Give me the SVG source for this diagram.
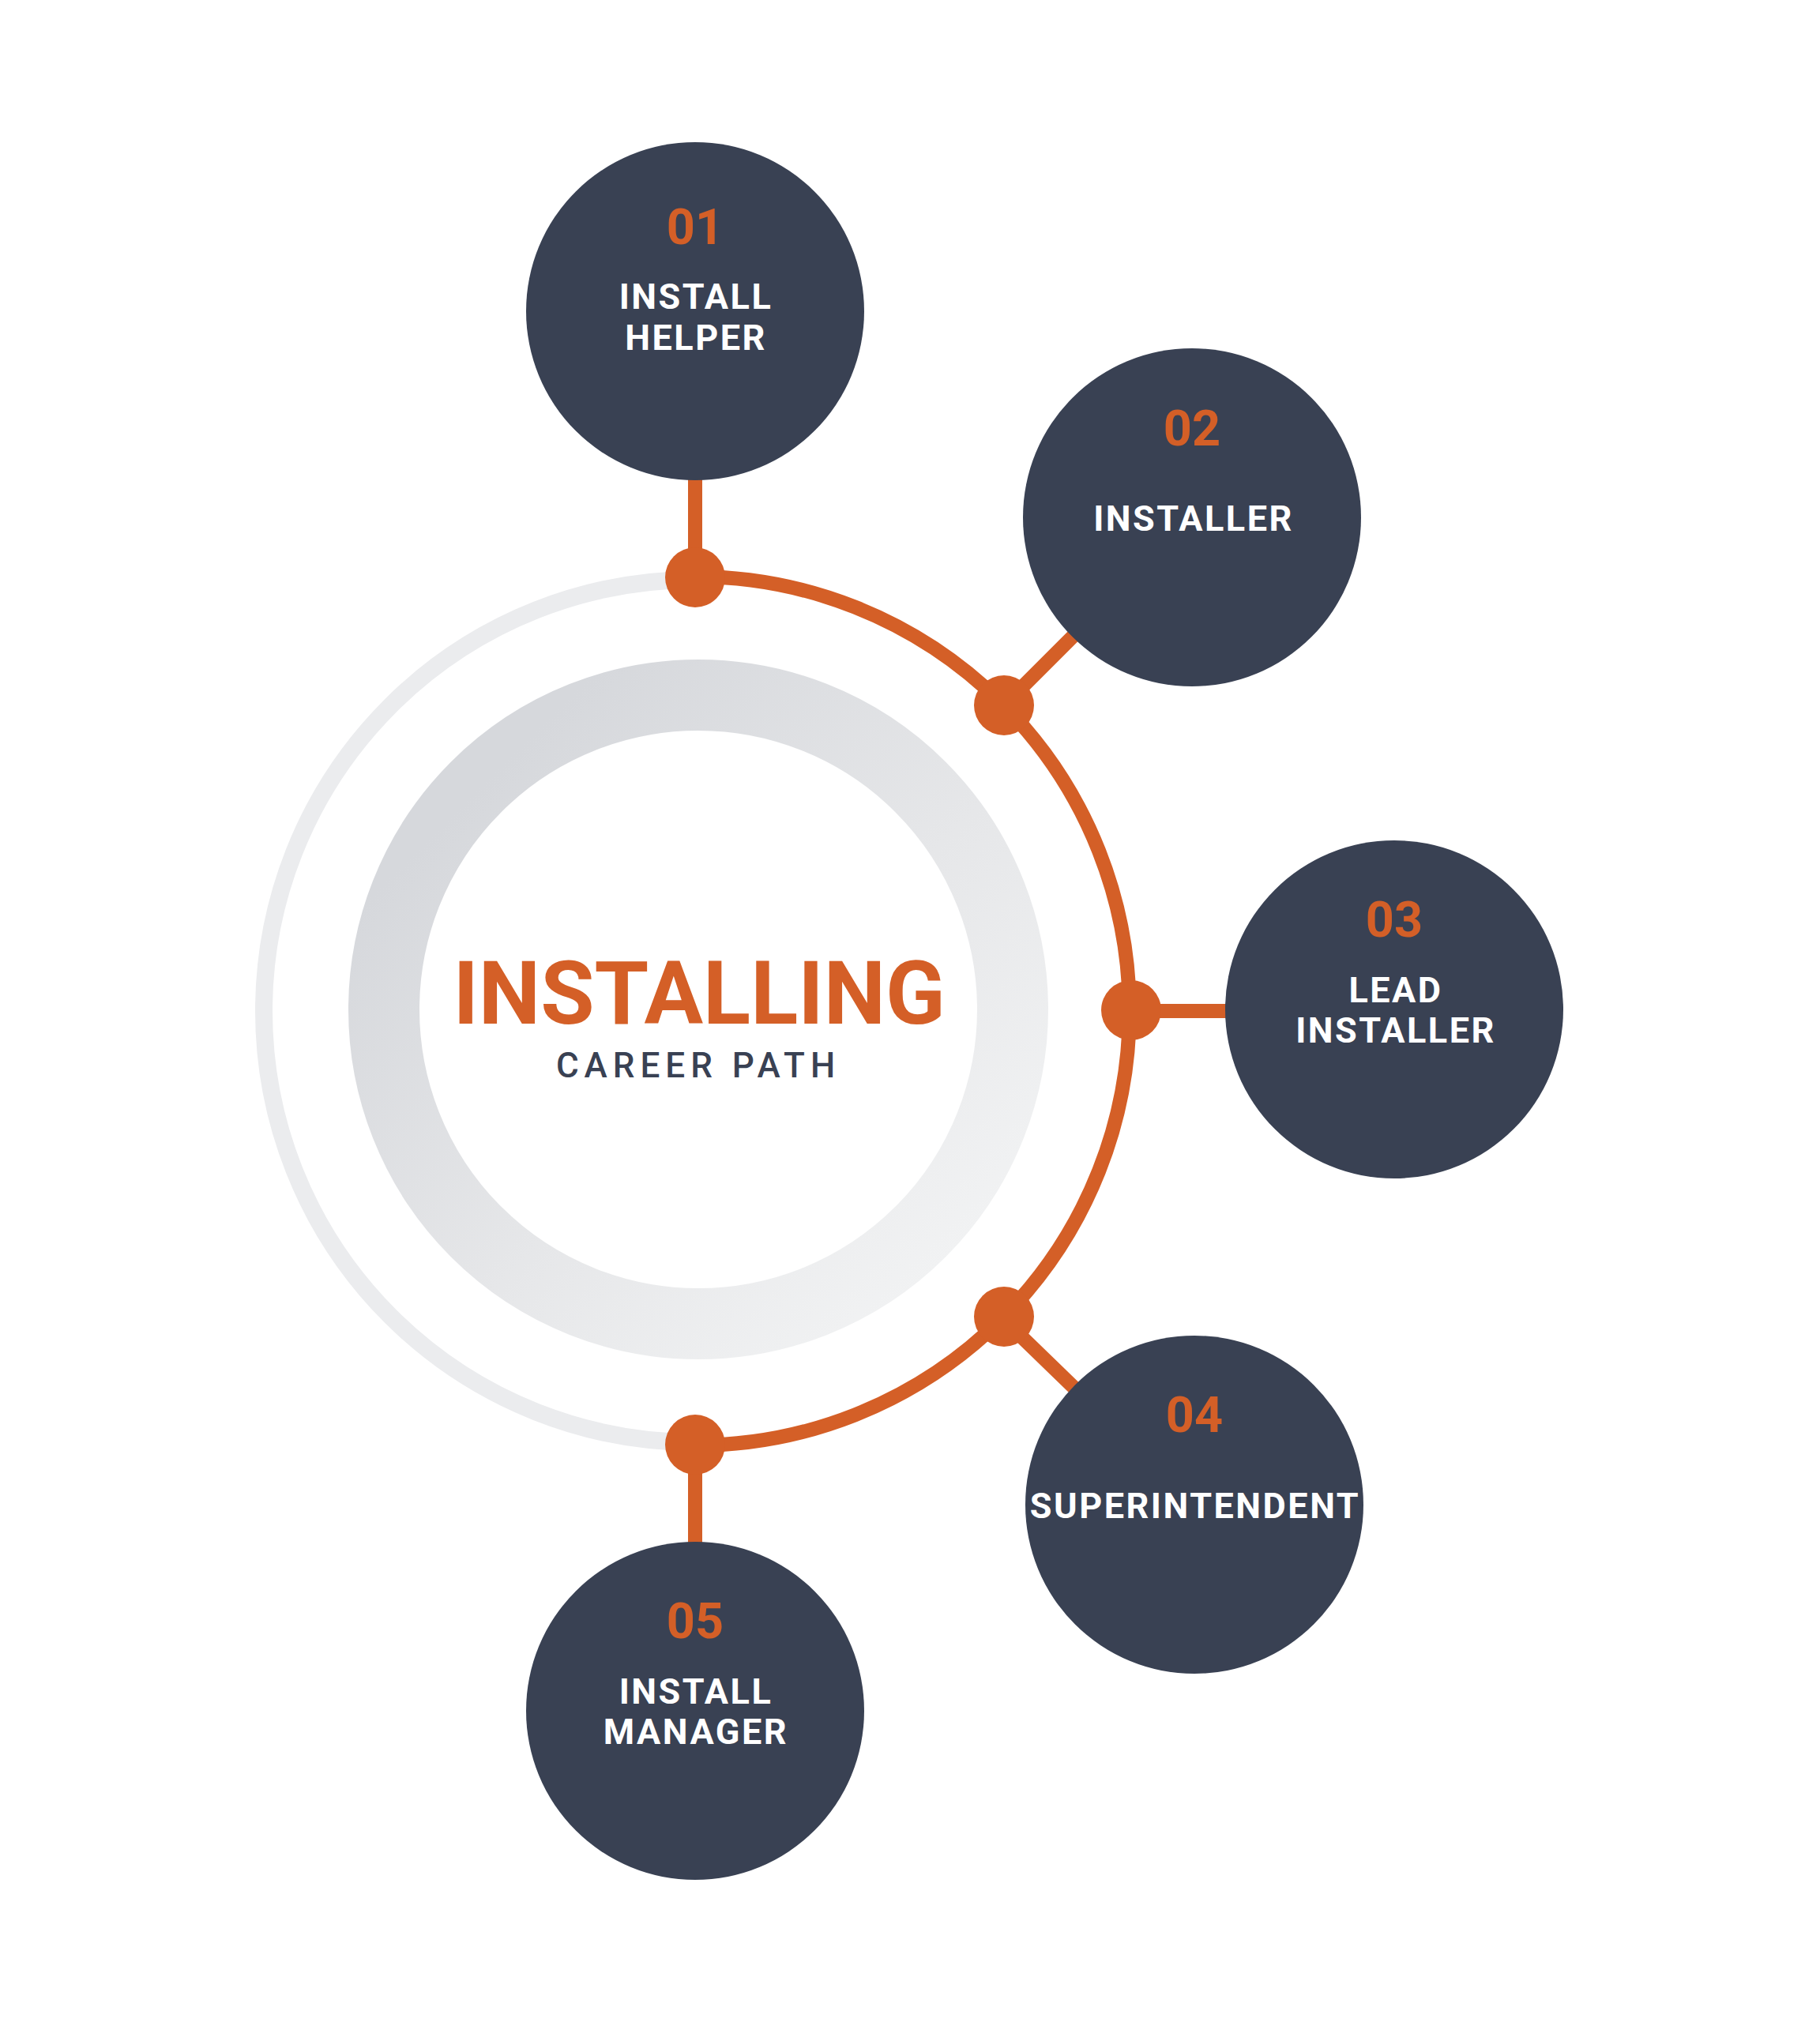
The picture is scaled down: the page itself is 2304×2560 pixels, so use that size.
<svg xmlns="http://www.w3.org/2000/svg" width="2304" height="2560" viewBox="0 0 2304 2560">
  <defs>
    <linearGradient id="ringGrad" x1="0.15" y1="0.15" x2="0.9" y2="0.9">
      <stop offset="0" stop-color="#d6d8dc"/>
      <stop offset="0.55" stop-color="#e6e7e9"/>
      <stop offset="1" stop-color="#f1f2f3"/>
    </linearGradient>
  </defs>
  <style>
    .node { fill: #394153; }
    .num { font-family: Roboto, "Liberation Sans", sans-serif; font-weight: 700; font-size: 63px; fill: #d45f27; text-anchor: middle; }
    .lbl { font-family: Roboto, "Liberation Sans", sans-serif; font-weight: 700; font-size: 45px; fill: #ffffff; text-anchor: middle; letter-spacing: 2.5px; }
    .conn { stroke: #d45f27; stroke-width: 18; fill: none; }
    .dot { fill: #d45f27; }
  </style>
  <rect width="2304" height="2560" fill="#ffffff"/>

  <g id="backdrop">
    <path d="M 880 1826 A 546 546 0 0 1 880 734" fill="none" stroke="#ebecee" stroke-width="22"/>
    <circle cx="884" cy="1278" r="398" fill="none" stroke="url(#ringGrad)" stroke-width="90"/>
  </g>

  <g id="title">
    <text x="885" y="1296" font-family="Roboto, 'Liberation Sans', sans-serif" font-weight="700" font-size="111" fill="#d45f27" text-anchor="middle">INSTALLING</text>
    <text x="884" y="1364" font-family="Roboto, 'Liberation Sans', sans-serif" font-weight="500" font-size="44" fill="#394153" text-anchor="middle" letter-spacing="7">CAREER PATH</text>
  </g>

  <g id="connectors">
    <path class="conn" d="M 880 730 A 550 550 0 0 1 880 1830"/>
    <line class="conn" x1="880" y1="600" x2="880" y2="731"/>
    <line class="conn" x1="1271" y1="893" x2="1400" y2="764"/>
    <line class="conn" x1="1430" y1="1280" x2="1580" y2="1280"/>
    <line class="conn" x1="1269" y1="1669" x2="1400" y2="1796"/>
    <line class="conn" x1="880" y1="1829" x2="880" y2="1960"/>
    <circle class="dot" cx="880" cy="731" r="38"/>
    <circle class="dot" cx="1271" cy="893" r="38"/>
    <circle class="dot" cx="1432" cy="1279" r="38"/>
    <circle class="dot" cx="1271" cy="1667" r="38"/>
    <circle class="dot" cx="880" cy="1829" r="38"/>
  </g>

  <g id="node-01">
    <circle class="node" cx="880" cy="394" r="214"/>
    <text class="num" x="880" y="309">01</text>
    <text class="lbl" x="881" y="391">INSTALL</text>
    <text class="lbl" x="881" y="443">HELPER</text>
  </g>

  <g id="node-02">
    <circle class="node" cx="1509" cy="655" r="214"/>
    <text class="num" x="1509" y="564">02</text>
    <text class="lbl" x="1511" y="672">INSTALLER</text>
  </g>

  <g id="node-03">
    <circle class="node" cx="1765" cy="1278" r="214"/>
    <text class="num" x="1765" y="1186">03</text>
    <text class="lbl" x="1767" y="1269">LEAD</text>
    <text class="lbl" x="1767" y="1320">INSTALLER</text>
  </g>

  <g id="node-04">
    <circle class="node" cx="1512" cy="1905" r="214"/>
    <text class="num" x="1512" y="1813">04</text>
    <text class="lbl" x="1513" y="1922">SUPERINTENDENT</text>
  </g>

  <g id="node-05">
    <circle class="node" cx="880" cy="2166" r="214"/>
    <text class="num" x="880" y="2074">05</text>
    <text class="lbl" x="881" y="2157">INSTALL</text>
    <text class="lbl" x="881" y="2208">MANAGER</text>
  </g>
</svg>
